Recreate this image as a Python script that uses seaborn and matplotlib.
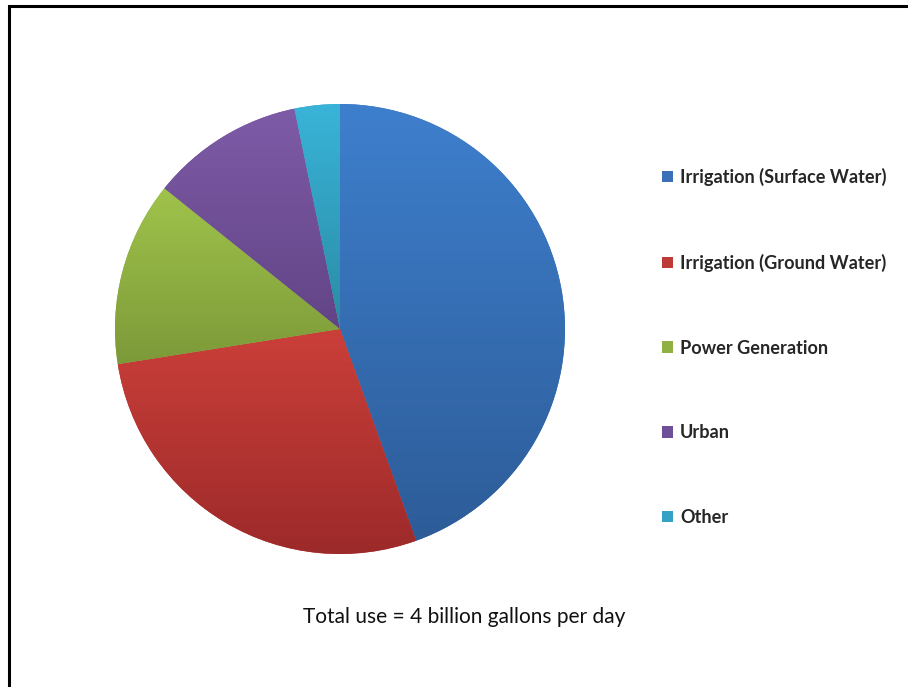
import numpy as np
import matplotlib
matplotlib.use("Agg")
import matplotlib.pyplot as plt
import matplotlib.colors as mcolors
from matplotlib.patches import Patch, Rectangle
import seaborn as sns

# Water use by sector, billion gallons per day
categories = ["Irrigation (Surface Water)", "Irrigation (Ground Water)",
              "Power Generation", "Urban", "Other"]
usage = [1.78, 1.12, 0.53, 0.44, 0.13]
total_label = "Total use = 4 billion gallons per day"

# light (top) and dark (bottom) shade of each slice
top_colors = ["#3E7FCD", "#CB3F39", "#A0C34B", "#7E5BA7", "#39B4D8"]
bottom_colors = ["#2D5C98", "#9C2A2A", "#7C9A39", "#624486", "#2A8BA5"]
mid_colors = ["#3A70B8", "#BE3A36", "#8FB043", "#6F5098", "#33A2C4"]

sns.set_theme(style="white")
plt.rcParams["font.family"] = ["Lato", "DejaVu Sans"]

fig = plt.figure(figsize=(9.08, 6.87), dpi=100)
W, H = 908, 687

cx, cy, r = 340, 329, 225
ax = fig.add_axes([(cx - r) / W, (H - cy - r) / H, 2 * r / W, 2 * r / H])
wedges, _ = ax.pie(usage, colors=mid_colors, startangle=90, counterclock=False,
                   radius=1.0, wedgeprops=dict(linewidth=0))
ax.set_xlim(-1, 1)
ax.set_ylim(-1, 1)
ax.set_aspect("equal")
ax.axis("off")

# vertical gradient inside each slice
for w, c_top, c_bot in zip(wedges, top_colors, bottom_colors):
    verts = w.get_path().vertices
    verts = w.get_patch_transform().transform(verts)
    x0, x1 = verts[:, 0].min(), verts[:, 0].max()
    y0, y1 = verts[:, 1].min(), verts[:, 1].max()
    cmap = mcolors.LinearSegmentedColormap.from_list("g", [c_bot, c_top])
    grad = np.linspace(0, 1, 256).reshape(-1, 1)
    im = ax.imshow(grad, cmap=cmap, extent=[x0, x1, y0, y1], origin="lower",
                   aspect="auto", interpolation="bilinear", zorder=w.get_zorder() + 0.1)
    im.set_clip_path(w)
ax.set_xlim(-1, 1)
ax.set_ylim(-1, 1)

handles = [Patch(facecolor=c, edgecolor="none") for c in mid_colors]
fig.legend(handles, categories, loc="upper left",
           bbox_to_anchor=(662 / W, 1 - 168 / H), frameon=False,
           handlelength=0.6, handleheight=0.6, handletextpad=0.4,
           labelspacing=3.72, borderpad=0, borderaxespad=0,
           prop=dict(family=["Lato", "DejaVu Sans"], weight="bold", size=13.1))

fig.text(464 / W, 1 - 617 / H, total_label, ha="center", va="center",
         fontsize=15, color="#111111")

# chart area frame (top and left edges visible)
fig.add_artist(Rectangle((8.5 / W, -0.1), 1.2, 1 - 6 / H + 0.1,
                         transform=fig.transFigure, fill=False,
                         edgecolor="black", linewidth=2.2))

fig.savefig("out.png", dpi=100)
